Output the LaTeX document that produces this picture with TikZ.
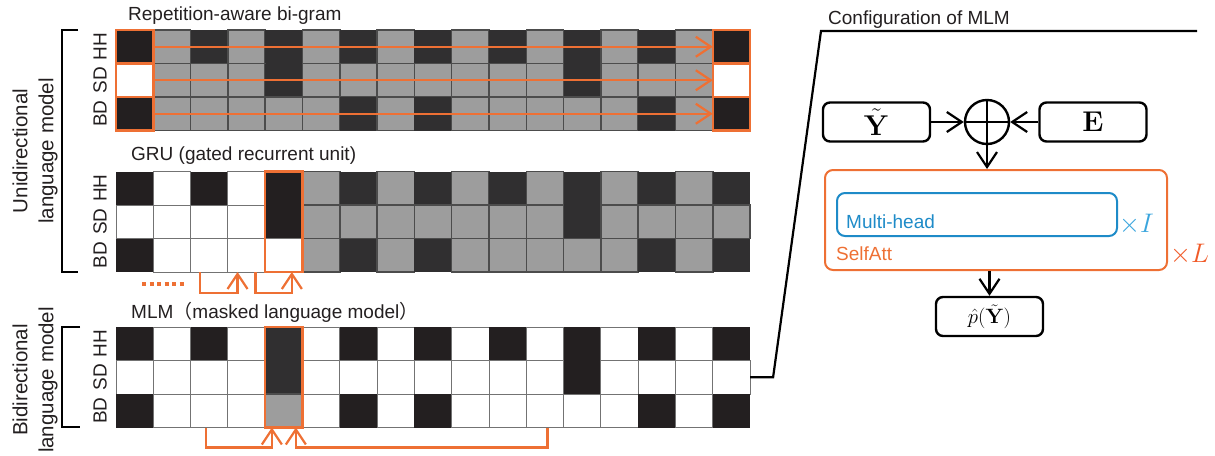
\documentclass[tikz,border=0pt]{standalone}
\usepackage{graphicx}
\usepackage[no-math]{fontspec}
\setmainfont{Liberation Sans}
\newfontfamily\jpfont{Noto Sans CJK JP}
\usetikzlibrary{arrows.meta,positioning}
\definecolor{cblk}{HTML}{231F20}
\definecolor{cdrk}{HTML}{302F30}
\definecolor{cgry}{HTML}{9D9D9D}
\definecolor{corg}{HTML}{EE7034}
\definecolor{cred}{HTML}{F05A28}
\definecolor{cblu}{HTML}{1E8BC8}
\definecolor{clbl}{HTML}{3AA5DD}

\begin{document}
\begin{tikzpicture}[x=1pt,y=-1pt,
 gcell/.style={rectangle,inner sep=0pt,outer sep=0pt,minimum width=37.3pt,minimum height=33.5pt},
 bk/.style={fill=cblk},
 dk/.style={fill=cdrk},
 wt/.style={fill=white,draw=black!55,line width=1pt},
 gy/.style={fill=cgry,draw=black!70,line width=1.5pt},
 lbl/.style={font=\fontsize{19}{24}\selectfont,text=cblk,inner sep=0pt},
 rowlbl/.style={lbl,rotate=90},
 mth/.style={font=\fontsize{24.88}{26}\selectfont},
 obox/.style={draw=corg,line width=2.5pt},
 oline/.style={draw=corg,line width=2.2pt},
 box/.style={draw,rounded corners=7pt,line width=2.4pt,minimum width=107pt,minimum height=39pt,mth},
 >={Straight Barb[length=15pt,width=20pt]}]
\useasboundingbox (0,0) rectangle (1215,455);

% bi-gram grid
\fill[cdrk] (116,30) rectangle (750,130.5);
\foreach \rw [count=\r] in {{bk,gy,dk,gy,dk,gy,dk,gy,dk,gy,dk,gy,dk,gy,dk,gy,bk},
  {wt,gy,gy,gy,dk,gy,gy,gy,gy,gy,gy,gy,dk,gy,gy,gy,wt},
  {bk,gy,gy,gy,gy,gy,dk,gy,dk,gy,gy,gy,gy,gy,dk,gy,bk}}
  \foreach \v [count=\c] in \rw
    \node[gcell,\v] (b-\r-\c) at ({134.65+37.3*(\c-1)},{46.75+33.5*(\r-1)}) {};
\foreach \r in {1,2,3} {
  \foreach \c in {1,17} \draw[obox] (b-\r-\c.north west) rectangle (b-\r-\c.south east);
  \draw[oline,->] (b-\r-1.east) -- (b-\r-17.west);
}

% GRU grid
\fill[cdrk] (116,171.5) rectangle (750,272);
\foreach \rw [count=\r] in {{bk,wt,bk,wt,bk,gy,dk,gy,dk,gy,dk,gy,dk,gy,dk,gy,dk},
  {wt,wt,wt,wt,bk,gy,gy,gy,gy,gy,gy,gy,dk,gy,gy,gy,gy},
  {bk,wt,wt,wt,wt,gy,dk,gy,dk,gy,gy,gy,gy,gy,dk,gy,dk}}
  \foreach \v [count=\c] in \rw
    \node[gcell,\v] (g-\r-\c) at ({134.65+37.3*(\c-1)},{188.25+33.5*(\r-1)}) {};
\draw[obox] (g-1-5.north west) rectangle (g-3-5.south east);
\draw[oline,line width=3.5pt,dash pattern=on 4pt off 3.5pt] (142,284) -- (186,284);
\draw[oline,->] ([xshift=-9pt]g-3-3.south) -- ++(0,21) -| ([xshift=-9pt]g-3-4.south);
\draw[oline,->] ([xshift=9pt]g-3-4.south) -- ++(0,21) -| ([xshift=8pt]g-3-5.south);

% MLM grid
\fill[cdrk] (116,327) rectangle (750,427.5);
\foreach \rw [count=\r] in {{bk,wt,bk,wt,dk,wt,bk,wt,bk,wt,bk,wt,bk,wt,bk,wt,bk},
  {wt,wt,wt,wt,dk,wt,wt,wt,wt,wt,wt,wt,bk,wt,wt,wt,wt},
  {bk,wt,wt,wt,gy,wt,bk,wt,bk,wt,wt,wt,wt,wt,bk,wt,bk}}
  \foreach \v [count=\c] in \rw
    \node[gcell,\v] (m-\r-\c) at ({134.65+37.3*(\c-1)},{343.75+33.5*(\r-1)}) {};
\draw[obox] (m-1-5.north west) rectangle (m-3-5.south east);
\draw[oline,->] ([xshift=-3pt]m-3-3.south) -- ++(0,20) -| ([xshift=-12pt]m-3-5.south);
\draw[oline,->] ([xshift=2.5pt]m-3-12.south) -- ++(0,20) -| ([xshift=12pt]m-3-5.south);

% labels
\foreach \y/\n in {30/b,171.5/g,327/m}
  \foreach \t [count=\r] in {HH,SD,BD}
    \node[rowlbl] (\n\t) at (100,{\y+16.75+33.5*(\r-1)}) {\t};
\node[lbl,anchor=base west] (tbi) at (128,20) {Repetition-aware bi-gram};
\node[lbl,anchor=base west] (tgru) at (131,160) {GRU (gated recurrent unit)};
\node[lbl,anchor=base west] (tmlm) at (131,318) {MLM{\jpfont （}masked language model{\jpfont ）}};
\draw[line width=2.5pt] (78,30) -- (62,30) -- (62,272) -- (78,272);
\draw[line width=2.5pt] (80,327) -- (62,327) -- (62,427) -- (80,427);
\node[lbl,rotate=90,align=center,font=\fontsize{20.5}{26}\selectfont] (uni) at (35,151) {Unidirectional\\language model};
\node[lbl,rotate=90,align=center,font=\fontsize{20.5}{26}\selectfont] (bid) at (35,380) {Bidirectional\\language model};

% configuration of MLM
\draw[line width=2.2pt] (m-2-17.east) -- ++(23,0) -- (821,31) -- (1197,31);
\node[lbl,anchor=base west] (cfg) at (828,24) {Configuration of MLM};
\node[box] (yt) at (876.5,122) {\scalebox{1.15}{$\tilde{\mathbf{Y}}$}};
\node[circle,draw,line width=2.4pt,minimum size=44pt,inner sep=0pt] (sum) at (987,122) {};
\draw[line width=2.4pt] (sum.north) -- (sum.south) (sum.west) -- (sum.east);
\node[box] (emb) at (1093,122) {\scalebox{1.15}{$\mathbf{E}$}};
\draw[line width=2.2pt,->] (yt) -- (sum);
\draw[line width=2.2pt,->] (emb) -- (sum);
\node[draw=corg,rounded corners=8pt,line width=2pt,minimum width=342pt,minimum height=100pt] (satt) at (996,220) {};
\node[draw=cblu,rounded corners=8pt,line width=2pt,minimum width=280pt,minimum height=43pt] (mh) at (977,214.5) {};
\node[lbl,text=cblu,anchor=base west] (mhtxt) at (846,228) {Multi-head};
\node[lbl,mth,text=clbl,anchor=base west] (rI) at (1119,232) {\scalebox{1.08}{$\times I$}};
\node[lbl,text=corg,anchor=base west] (satxt) at (836,260) {SelfAtt};
\node[lbl,mth,text=cred,anchor=base west] (rL) at (1170,262) {\scalebox{1.08}{$\times L$}};
\draw[line width=2.2pt,->] (sum.south) -- (sum.south |- satt.north);
\node[box,font=\fontsize{20.74}{22}\selectfont] (out) at (989.5,316.5) {$\hat{p}(\tilde{\mathbf{Y}})$};
\draw[line width=2.2pt,->] (out.north |- satt.south) -- (out.north);
\end{tikzpicture}
\end{document}
